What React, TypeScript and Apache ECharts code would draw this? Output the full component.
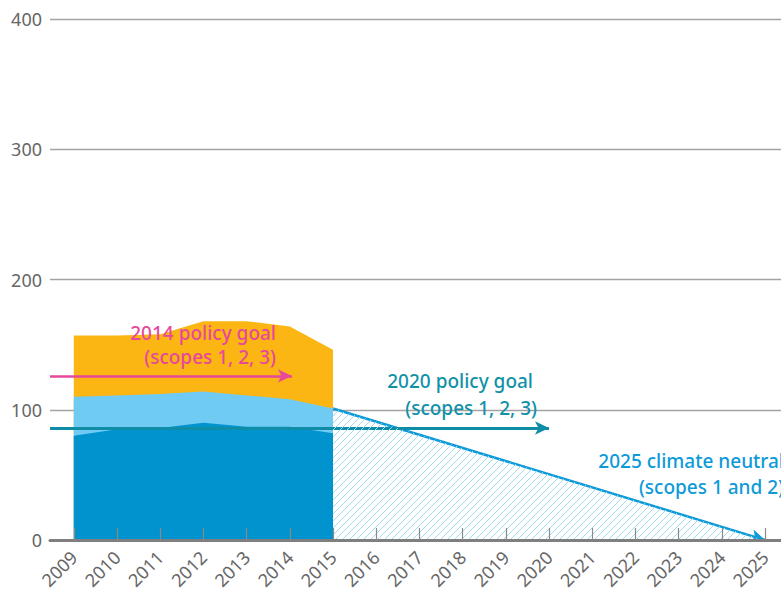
import React, { useEffect, useRef } from 'react';
import * as echarts from 'echarts';

const tickYears = [2009, 2010, 2011, 2012, 2013, 2014, 2015, 2016, 2017, 2018, 2019, 2020, 2021, 2022, 2023, 2024, 2025];
const actualYears = [2009, 2010, 2011, 2012, 2013, 2014, 2015];
const scope1 = [80, 85, 86, 90, 87, 87, 82];
const scope2 = [30, 26, 26, 24, 24, 21, 19];
const scope3 = [47, 46, 46, 54, 57, 56, 45];
const pathYears = [2015, 2025];
const pathValues = [101, 0];
const goal2014 = { value: 126, from: 2008.45, to: 2014.05 };
const goal2020 = { value: 86, from: 2008.45, to: 2020.0 };
const yTicks = [0, 100, 200, 300, 400];

const FONT = '"Noto Sans", "Open Sans", sans-serif';

export default function App() {
  const ref = useRef<HTMLDivElement>(null);
  useEffect(() => {
    document.body.style.margin = '0';
    if (!ref.current) return;
    const chart = echarts.init(ref.current, null, { renderer: 'svg' });

    const S = 7;
    const tile = document.createElement('canvas');
    tile.width = S;
    tile.height = S;
    const ctx = tile.getContext('2d')!;
    ctx.strokeStyle = '#9fdaf5';
    ctx.lineWidth = 1;
    ctx.beginPath();
    ctx.moveTo(0, S); ctx.lineTo(S, 0);
    ctx.moveTo(-1, 1); ctx.lineTo(1, -1);
    ctx.moveTo(S - 1, S + 1); ctx.lineTo(S + 1, S - 1);
    ctx.stroke();

    const pair = (xs: number[], ys: number[]) => xs.map((x, i) => [x, ys[i]]);
    const top12 = scope1.map((v, i) => v + scope2[i]);
    const top123 = top12.map((v, i) => v + scope3[i]);

    const areaSeries = (name: string, vals: number[], color: string, z: number) => ({
      name,
      type: 'line',
      data: pair(actualYears, vals),
      symbol: 'none',
      lineStyle: { width: 0 },
      areaStyle: { color, opacity: 1 },
      silent: true,
      z,
    });

    chart.setOption({
      animation: false,
      grid: { left: 50, right: 0, top: 19, bottom: 54 },
      xAxis: {
        type: 'value',
        min: 2008.45,
        max: 2025.37,
        z: 10,
        axisLine: { show: true, lineStyle: { color: '#7f7f7f', width: 3 } },
        axisTick: {
          show: true,
          inside: true,
          length: 12,
          customValues: tickYears,
          lineStyle: { color: '#8a8a8a', width: 1.2 },
        },
        axisLabel: {
          customValues: tickYears,
          rotate: 45,
          margin: 14,
          color: '#666',
          fontSize: 18,
          fontFamily: FONT,
          formatter: (v: number) => String(v),
        },
        splitLine: { show: false },
      },
      yAxis: {
        type: 'value',
        min: 0,
        max: 400,
        interval: 100,
        axisLine: { show: false },
        axisTick: { show: false },
        axisLabel: {
          customValues: yTicks,
          color: '#666',
          fontSize: 18,
          fontFamily: FONT,
          margin: 8,
        },
        splitLine: { lineStyle: { color: '#a3a3a3', width: 1.3 } },
      },
      series: [
        areaSeries('Scope 3', top123, '#fbb614', 2),
        areaSeries('Scope 2', top12, '#6fcbf3', 3),
        areaSeries('Scope 1', scope1, '#0093cd', 4),
        {
          name: 'Path',
          type: 'line',
          data: pair(pathYears, pathValues),
          symbol: 'none',
          lineStyle: { width: 0 },
          areaStyle: { color: { image: tile, repeat: 'repeat' }, opacity: 1 },
          silent: true,
          z: 5,
          markLine: {
            silent: true,
            symbol: ['none', 'arrow'],
            symbolSize: [10, 14],
            label: { show: false },
            emphasis: { disabled: true },
            data: [
              [
                { coord: [pathYears[0], pathValues[0]], lineStyle: { color: '#0d9ad8', width: 2.5, type: 'solid' } },
                { coord: [pathYears[1], pathValues[1]] },
              ],
              [
                { coord: [goal2014.from, goal2014.value], lineStyle: { color: '#e8489b', width: 2.5, type: 'solid' } },
                { coord: [goal2014.to, goal2014.value] },
              ],
              [
                { coord: [goal2020.from, goal2020.value], lineStyle: { color: '#0f8ca6', width: 3, type: 'solid' } },
                { coord: [goal2020.to, goal2020.value] },
              ],
            ],
          },
        },
      ],
      graphic: [
        { type: 'text', z: 100, style: { text: '2014 policy goal', x: 276, y: 333, align: 'right', verticalAlign: 'middle', fill: '#e8489b', fontSize: 19, fontFamily: FONT, fontWeight: 500 } },
        { type: 'text', z: 100, style: { text: '(scopes 1, 2, 3)', x: 276, y: 357, align: 'right', verticalAlign: 'middle', fill: '#e8489b', fontSize: 19, fontFamily: FONT, fontWeight: 500 } },
        { type: 'text', z: 100, style: { text: '2020 policy goal', x: 533, y: 381, align: 'right', verticalAlign: 'middle', fill: '#1191a8', fontSize: 19, fontFamily: FONT, fontWeight: 500 } },
        { type: 'text', z: 100, style: { text: '(scopes 1, 2, 3)', x: 537, y: 408, align: 'right', verticalAlign: 'middle', fill: '#1191a8', fontSize: 19, fontFamily: FONT, fontWeight: 500 } },
        { type: 'text', z: 100, style: { text: '2025 climate neutral', x: 784, y: 461, align: 'right', verticalAlign: 'middle', fill: '#0d9ad8', fontSize: 19, fontFamily: FONT, fontWeight: 500 } },
        { type: 'text', z: 100, style: { text: '(scopes 1 and 2)', x: 784, y: 487, align: 'right', verticalAlign: 'middle', fill: '#0d9ad8', fontSize: 19, fontFamily: FONT, fontWeight: 500 } },
      ],
    });
    return () => chart.dispose();
  }, []);
  return <div ref={ref} style={{ width: 781, height: 594 }} />;
}
